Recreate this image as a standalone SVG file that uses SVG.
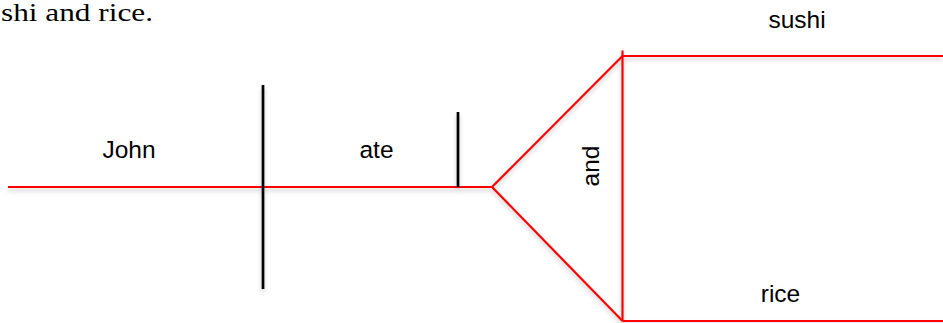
<svg xmlns="http://www.w3.org/2000/svg" width="943" height="323" viewBox="0 0 943 323">
  <defs>
    <style>
      .red { stroke: #ff0000; stroke-width: 2.2; fill: none; stroke-linecap: butt; }
      .blk { stroke: #000000; stroke-width: 2.7; fill: none; }
      .lbl { font-family: "Liberation Sans", Arial, sans-serif; font-size: 24.5px; fill: #000000; }
      .cap { font-family: "Liberation Serif", "Times New Roman", serif; font-size: 26px; fill: #000000; }
    </style>
    <filter id="sh" x="-5%" y="-20%" width="110%" height="160%">
      <feDropShadow dx="0" dy="3" stdDeviation="2" flood-color="#000000" flood-opacity="0.22"/>
    </filter>
  </defs>
  <rect width="943" height="323" fill="#ffffff"/>
  <text class="cap" x="1" y="21" textLength="152" lengthAdjust="spacingAndGlyphs">shi and rice.</text>
  <g id="connectors" filter="url(#sh)">
    <line class="red" x1="8" y1="187" x2="492" y2="187"/>
    <line class="red" x1="492" y1="187" x2="622.5" y2="56"/>
    <line class="red" x1="492" y1="187" x2="622.5" y2="321"/>
    <line class="red" x1="622.5" y1="50.5" x2="622.5" y2="321"/>
    <line class="red" x1="622.5" y1="56" x2="943" y2="56"/>
    <line class="red" x1="622.5" y1="321" x2="943" y2="321"/>
    <line class="blk" x1="263" y1="85" x2="263" y2="289"/>
    <line class="blk" x1="458" y1="112" x2="458" y2="187"/>
  </g>
  <g id="john"><text class="lbl" x="129" y="158" text-anchor="middle">John</text></g>
  <g id="ate"><text class="lbl" x="376.5" y="158" text-anchor="middle">ate</text></g>
  <g id="and"><text class="lbl" x="0" y="0" text-anchor="middle" transform="translate(599,166) rotate(-90)">and</text></g>
  <g id="sushi"><text class="lbl" x="797" y="28" text-anchor="middle">sushi</text></g>
  <g id="rice"><text class="lbl" x="780.5" y="302" text-anchor="middle">rice</text></g>
</svg>
